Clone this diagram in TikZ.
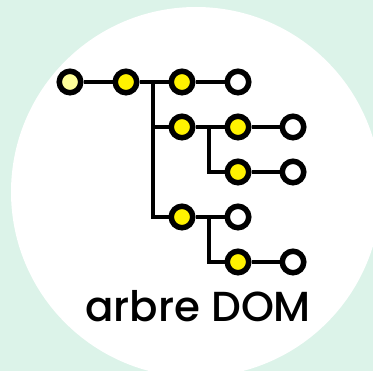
\documentclass[tikz,border=0pt]{standalone}
\usepackage{fontspec}
\newfontfamily\labelfont{Poppins}[UprightFont=* Medium]
\usetikzlibrary{positioning}
\definecolor{mint}{RGB}{220,243,233}
\definecolor{paleyellow}{RGB}{255,255,153}

\begin{document}
\begin{tikzpicture}[
  x=1pt, y=-1pt,
  v/.style={circle, draw=black, line width=5.5pt, minimum size=21.5pt, inner sep=0pt},
  root/.style={v, fill=paleyellow},
  elem/.style={v, fill=yellow},
  leaf/.style={v, fill=white},
  link/.style={line width=4.5pt, draw=black}
]

% Background and disc
\fill[mint] (0,0) rectangle (373,371);
\useasboundingbox (0,0) rectangle (373,371);
\fill[white] (196,192) circle (185);

% Nodes
\node[root] (html) at (70,82)  {};
\node[elem] (body) at (126,82) {};
\node[elem] (h1)   at (182,82) {};
\node[leaf] (t1)   at (238,82) {};
\node[elem] (ul)   at (182,127) {};
\node[elem] (li1)  at (238,127) {};
\node[leaf] (t2)   at (293,127) {};
\node[elem] (li2)  at (238,172) {};
\node[leaf] (t3)   at (293,172) {};
\node[elem] (p)    at (182,217) {};
\node[leaf] (t4)   at (238,217) {};
\node[elem] (em)   at (238,262) {};
\node[leaf] (t5)   at (293,262) {};

% Branch points
\coordinate (b1) at (153,82);
\coordinate (b2) at (209,127);
\coordinate (b3) at (209,217);

% Links
\draw[link] (html) -- (body);
\draw[link] (body) -- (h1);
\draw[link] (h1) -- (t1);
\draw[link] (b1) |- (p);
\draw[link] (b1 |- ul) -- (ul);
\draw[link] (ul) -- (li1);
\draw[link] (li1) -- (t2);
\draw[link] (b2) |- (li2);
\draw[link] (li2) -- (t3);
\draw[link] (p) -- (t4);
\draw[link] (b3) |- (em);
\draw[link] (em) -- (t5);

% Caption
\node[anchor=base west, inner sep=0pt, font=\labelfont\fontsize{42}{42}\selectfont] (caption) at (85,322) {arbre DOM};

\end{tikzpicture}
\end{document}
